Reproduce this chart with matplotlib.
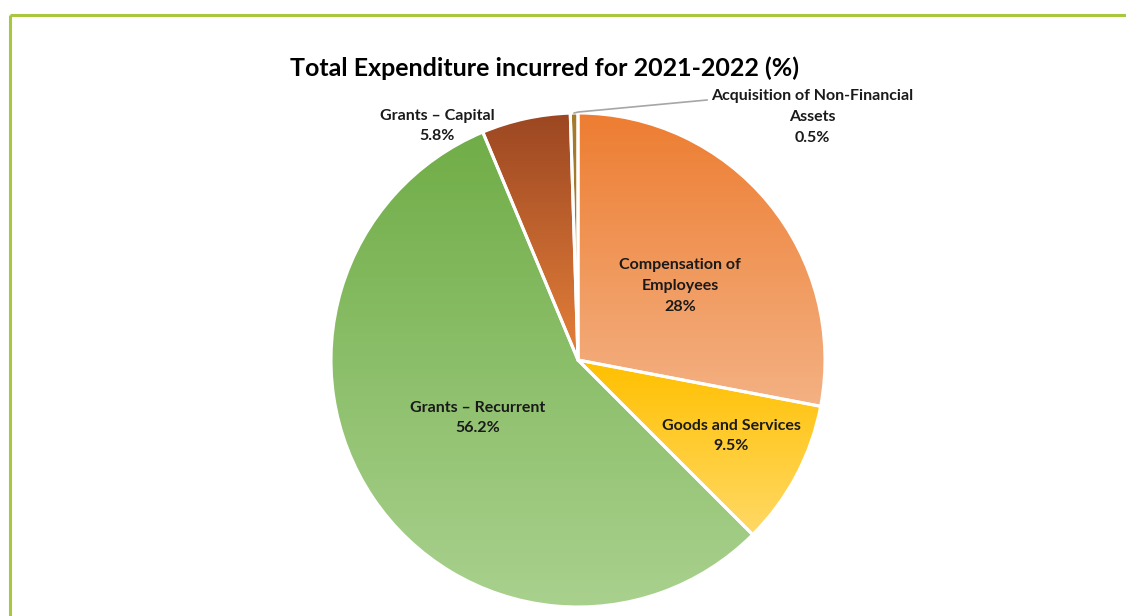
import numpy as np
import matplotlib.pyplot as plt
from matplotlib.colors import LinearSegmentedColormap

# ---- data ----
labels = ["Compensation of\nEmployees", "Goods and Services", "Grants \u2013 Recurrent",
          "Grants \u2013 Capital", "Acquisition of Non-Financial\nAssets"]
shares = [28.0, 9.5, 56.2, 5.8, 0.5]
pct_text = ["28%", "9.5%", "56.2%", "5.8%", "0.5%"]

# top / bottom gradient colours per slice
grad_top = ["#ED7D31", "#FFC000", "#70AD47", "#9C4722", "#A57A2C"]
grad_bot = ["#F4B183", "#FFD966", "#A9D18E", "#E5803A", "#A57A2C"]

W, H = 1126, 616
plt.rcParams["font.family"] = ["Lato", "DejaVu Sans"]

fig = plt.figure(figsize=(W / 100, H / 100), dpi=100)
ax = fig.add_axes([0, 0, 1, 1])

cx, cy, R = 578, H - 360, 247
wedges, _ = ax.pie(shares, startangle=90, counterclock=False, center=(cx, cy),
                   radius=R, wedgeprops=dict(edgecolor="white", linewidth=2.2))

for w, c0, c1 in zip(wedges, grad_top, grad_bot):
    ext = w.get_path().get_extents()
    cmap = LinearSegmentedColormap.from_list("g", [c0, c1])
    grad = np.linspace(0, 1, 256).reshape(-1, 1)
    im = ax.imshow(grad, cmap=cmap, extent=(ext.x0, ext.x1, ext.y0, ext.y1),
                   origin="upper", aspect="auto", zorder=1, interpolation="bilinear")
    im.set_clip_path(w)
    w.set_facecolor("none")
    w.set_zorder(2)

# ---- labels ----
lab_fs = 11.5
ls = 1.6
pos_in = {0: (680, 286), 1: (731, 436), 2: (478, 418)}
for i, (x, y) in pos_in.items():
    ax.text(x, H - y, labels[i] + "\n" + pct_text[i], ha="center", va="center",
            fontsize=lab_fs, fontweight="bold", color="#1a1a1a", linespacing=ls, zorder=5)

ax.text(437, H - 126, labels[3] + "\n" + pct_text[3], ha="center", va="center",
        fontsize=lab_fs, fontweight="bold", color="#1a1a1a", linespacing=ls, zorder=5)
ax.text(812, H - 117, labels[4] + "\n" + pct_text[4], ha="center", va="center",
        fontsize=lab_fs, fontweight="bold", color="#1a1a1a", linespacing=ls, zorder=5)

# leader line for the tiny slice
mid = np.deg2rad(90 - 360 * (sum(shares[:4]) + shares[4] / 2) / 100.0)
x0, y0 = cx + R * np.cos(mid), cy + R * np.sin(mid)
ax.plot([x0, x0 + 4, 707], [y0, y0 + 1, H - 100], color="#A6A6A6", lw=1.2, zorder=4)

# title
ax.text(545, H - 68, "Total Expenditure incurred for 2021-2022 (%)", ha="center", va="center",
        fontsize=18, fontweight="bold", color="black")

# frame lines
ax.plot([10, W], [H - 15, H - 15], color="#A9C63F", lw=2.2, solid_capstyle="butt")
ax.plot([10, 10], [H - 15, 0], color="#A9C63F", lw=2.2, solid_capstyle="butt")

ax.set_xlim(0, W)
ax.set_ylim(0, H)
ax.set_aspect("auto")
ax.axis("off")

fig.savefig("out.png", dpi=100)
